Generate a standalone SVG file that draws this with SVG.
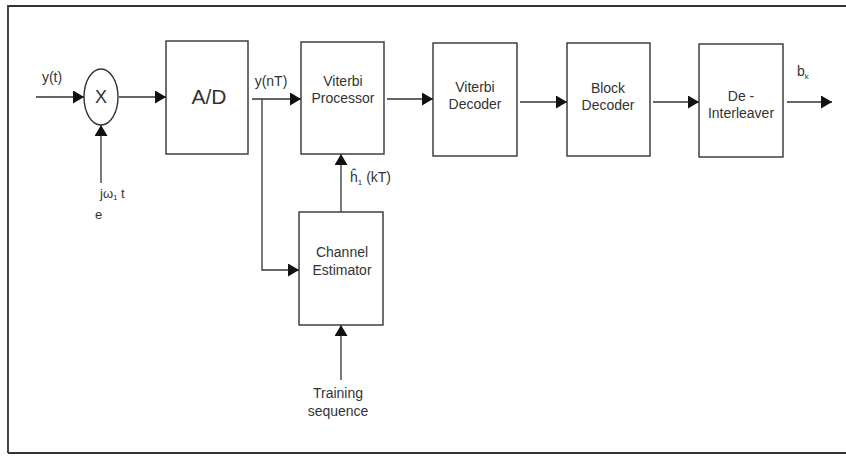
<svg xmlns="http://www.w3.org/2000/svg" width="846" height="456" viewBox="0 0 846 456">
<style>
  .box{fill:none;stroke:#333;stroke-width:1.4}
  .wire{fill:none;stroke:#333;stroke-width:1.3}
  text{font-family:"Liberation Sans",Arial,sans-serif;fill:#333;font-size:14px}
  .c{text-anchor:middle}
  .big{font-size:21px}
  .sub{font-size:8px}
</style>
<defs>
  <marker id="ah" markerUnits="userSpaceOnUse" markerWidth="12" markerHeight="13" refX="11" refY="6.5" orient="auto">
    <path d="M0,0 L11,6.5 L0,13 Z" fill="#111"/>
  </marker>
</defs>
<rect x="0" y="0" width="846" height="456" fill="#fff"/>
<path d="M8,453 V6 H850 M8,453 H850" fill="none" stroke="#333" stroke-width="1.8"/>

<g id="mixer">
  <ellipse cx="101" cy="97" rx="17" ry="28" class="box"/>
  <text x="101" y="103" class="c" style="font-size:18px">X</text>
</g>
<g id="ad">
  <rect x="166" y="41" width="82" height="113" class="box"/>
  <text x="209" y="104" class="c big">A/D</text>
</g>
<g id="viterbi-processor">
  <rect x="301" y="42" width="83" height="112" class="box"/>
  <text x="343" y="86" class="c">Viterbi</text>
  <text x="343" y="103" class="c">Processor</text>
</g>
<g id="channel-estimator">
  <rect x="299" y="212" width="84" height="113" class="box"/>
  <text x="342" y="257" class="c">Channel</text>
  <text x="342" y="275" class="c">Estimator</text>
</g>
<g id="viterbi-decoder">
  <rect x="433" y="43" width="84" height="113" class="box"/>
  <text x="475" y="92" class="c">Viterbi</text>
  <text x="475" y="109" class="c">Decoder</text>
</g>
<g id="block-decoder">
  <rect x="567" y="43" width="83" height="113" class="box"/>
  <text x="608" y="93" class="c">Block</text>
  <text x="608" y="110" class="c">Decoder</text>
</g>
<g id="deinterleaver">
  <rect x="699" y="44" width="84" height="113" class="box"/>
  <text x="741" y="101" class="c">De -</text>
  <text x="741" y="118" class="c">Interleaver</text>
</g>

<g id="connectors">
  <path d="M36,97 H84" class="wire" marker-end="url(#ah)"/>
  <path d="M101,183 V125" class="wire" marker-end="url(#ah)"/>
  <path d="M119,97 H166" class="wire" marker-end="url(#ah)"/>
  <path d="M252,99 H301" class="wire" marker-end="url(#ah)"/>
  <path d="M262,99 V270 H299" class="wire" marker-end="url(#ah)"/>
  <path d="M341,212 V154" class="wire" marker-end="url(#ah)"/>
  <path d="M341,380 V325" class="wire" marker-end="url(#ah)"/>
  <path d="M387,99 H433" class="wire" marker-end="url(#ah)"/>
  <path d="M520,102 H567" class="wire" marker-end="url(#ah)"/>
  <path d="M653,102 H699" class="wire" marker-end="url(#ah)"/>
  <path d="M787,102 H832" class="wire" marker-end="url(#ah)"/>
</g>

<g id="labels">
  <text x="52" y="82" class="c">y(t)</text>
  <text x="271" y="86" class="c">y(nT)</text>
  <text x="100" y="198" style="font-size:13px">jω<tspan class="sub" dy="2">1</tspan><tspan dy="-2"> t</tspan></text>
  <text x="95" y="219" style="font-size:13px">e</text>
  <text x="350" y="182">ĥ<tspan class="sub" dy="3">1</tspan><tspan dy="-3"> (kT)</tspan></text>
  <text x="338" y="398" class="c">Training</text>
  <text x="338" y="416" class="c">sequence</text>
  <text x="797" y="76">b<tspan class="sub" dy="3">k</tspan></text>
</g>
</svg>
